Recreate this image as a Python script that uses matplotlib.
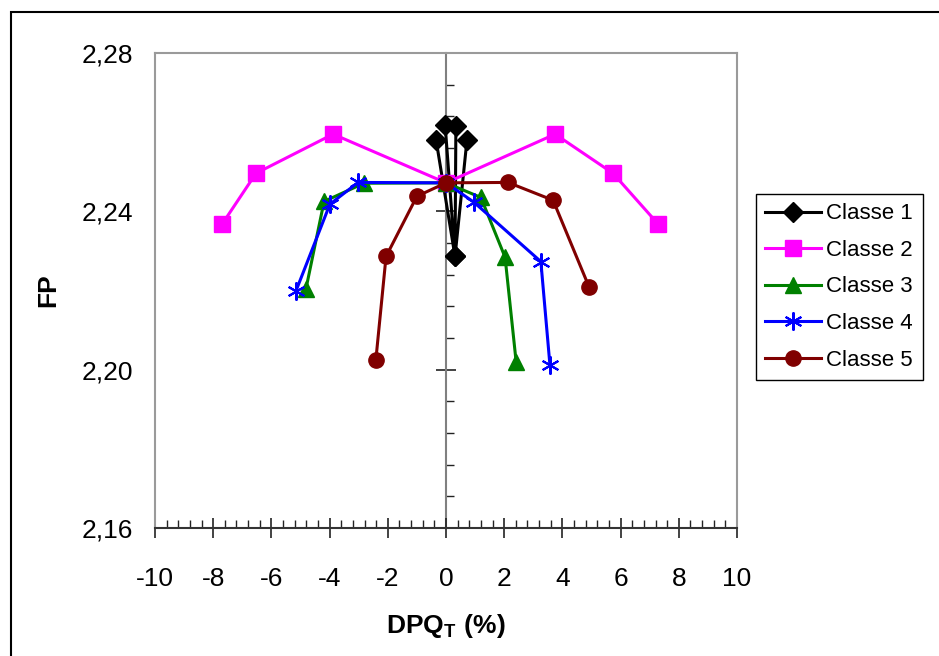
import matplotlib
matplotlib.use("Agg")
import matplotlib.pyplot as plt
from matplotlib.patches import Rectangle
from matplotlib.ticker import FuncFormatter, MultipleLocator, NullFormatter

# Data: DPQ_T (%) vs FP per class
classe1_x = [-0.34, 0.31, -0.03, 0.34, 0.31, 0.72]
classe1_y = [2.258, 2.2286, 2.2618, 2.2615, 2.2286, 2.258]

classe2_x = [-7.70, -6.53, -3.88, 0.0, 3.75, 5.74, 7.30]
classe2_y = [2.2367, 2.2496, 2.2595, 2.2472, 2.2595, 2.2496, 2.2367]

classe3_x = [-4.81, -4.19, -2.82, 0.0, 1.20, 2.03, 2.41]
classe3_y = [2.2205, 2.2425, 2.2471, 2.2472, 2.2435, 2.2284, 2.2020]

classe4_x = [-5.15, -3.99, -3.02, 0.0, 0.96, 3.26, 3.57]
classe4_y = [2.2200, 2.2418, 2.2473, 2.2472, 2.2423, 2.2273, 2.2013]

classe5_x = [-2.41, -2.06, -1.00, 0.0, 2.13, 3.68, 4.91]
classe5_y = [2.2025, 2.2286, 2.2438, 2.2472, 2.2473, 2.2428, 2.2210]

x_ticks = [-10, -8, -6, -4, -2, 0, 2, 4, 6, 8, 10]
y_ticks = [2.16, 2.20, 2.24, 2.28]

plt.rcParams["font.family"] = ["Liberation Sans", "DejaVu Sans"]
plt.rcParams["axes.unicode_minus"] = False
plt.rcParams["mathtext.fontset"] = "custom"
plt.rcParams["mathtext.rm"] = "Liberation Sans"
plt.rcParams["mathtext.bf"] = "Liberation Sans:bold"

fig = plt.figure(figsize=(9.39, 6.56), dpi=100)
ax = fig.add_axes([155 / 939, 128 / 656, 582 / 939, 475 / 656])

lw = 2.2
ax.plot(classe1_x, classe1_y, color="black", lw=lw, marker="D", ms=10,
        label="Classe 1", zorder=3)
ax.plot(classe2_x, classe2_y, color="#FF00FF", lw=lw, marker="s", ms=11,
        label="Classe 2", zorder=3)
ax.plot(classe3_x, classe3_y, color="#008000", lw=lw, marker="^", ms=12,
        label="Classe 3", zorder=3)
ax.plot(classe4_x, classe4_y, color="#0000FF", lw=lw, marker=(6, 2, 0), ms=13,
        mew=1.5, label="Classe 4", zorder=3)
ax.plot(classe5_x, classe5_y, color="#800000", lw=lw, marker="o", ms=11,
        label="Classe 5", zorder=3)

ax.set_xlim(-10, 10)
ax.set_ylim(2.16, 2.28)

# frame: grey box, dark x axis at the bottom
for side in ("left", "top", "right"):
    ax.spines[side].set_color("#9a9a9a")
    ax.spines[side].set_linewidth(1.5)
ax.spines["bottom"].set_color("#333333")
ax.spines["bottom"].set_linewidth(1.5)

ax.set_xticks(x_ticks)
ax.xaxis.set_minor_locator(MultipleLocator(0.4))
ax.tick_params(axis="x", which="major", direction="inout", length=14,
               width=1.2, labelsize=19, pad=21, color="#222222")
ax.tick_params(axis="x", which="minor", direction="in", length=6,
               width=1.0, color="#222222")

ax.set_yticks(y_ticks)
ax.yaxis.set_major_formatter(FuncFormatter(lambda v, p: f"{v:.2f}".replace(".", ",")))
ax.tick_params(axis="y", which="major", length=0, labelsize=19, pad=16)
ax.tick_params(axis="y", which="minor", length=0)

# vertical axis crossing at x = 0
yax = ax.secondary_yaxis(0.5)
yax.set_yticks(y_ticks)
yax.yaxis.set_major_formatter(NullFormatter())
yax.yaxis.set_minor_locator(MultipleLocator(0.008))
for side in ("left", "right"):
    yax.spines[side].set_color("#808080")
    yax.spines[side].set_linewidth(1.5)
yax.tick_params(axis="y", which="major", direction="inout", length=14,
                width=1.2, labelleft=False, labelright=False, color="#222222")
yax.tick_params(axis="y", which="minor", direction="out", length=6,
                width=1.0, color="#222222")

ax.set_xlabel(r"$\mathbf{DPQ_{T}\ (\%)}$", fontsize=19)
ax.xaxis.label.set_va("center")
ax.xaxis.set_label_coords(0.5, (528 - 626) / 475)
ax.set_ylabel("FP", fontsize=19, fontweight="bold")
ax.yaxis.label.set_va("center")
ax.yaxis.set_label_coords(-(155 - 48) / 582, 0.5)

leg = ax.legend(loc="upper left", bbox_to_anchor=(756 / 939, 1 - 194 / 656),
                bbox_transform=fig.transFigure, borderaxespad=0,
                fontsize=16, frameon=True, fancybox=False, shadow=False,
                edgecolor="black", framealpha=1, handlelength=2.5,
                handletextpad=0.25, labelspacing=0.7, borderpad=0.42)
leg.get_frame().set_linewidth(1.0)

# outer chart border
fig.patches.append(Rectangle((11 / 939, -0.5), 2.0, 0.5 + 1 - 12 / 656,
                             transform=fig.transFigure, fill=False,
                             edgecolor="black", linewidth=1.5))

fig.savefig("out.png", dpi=100)
